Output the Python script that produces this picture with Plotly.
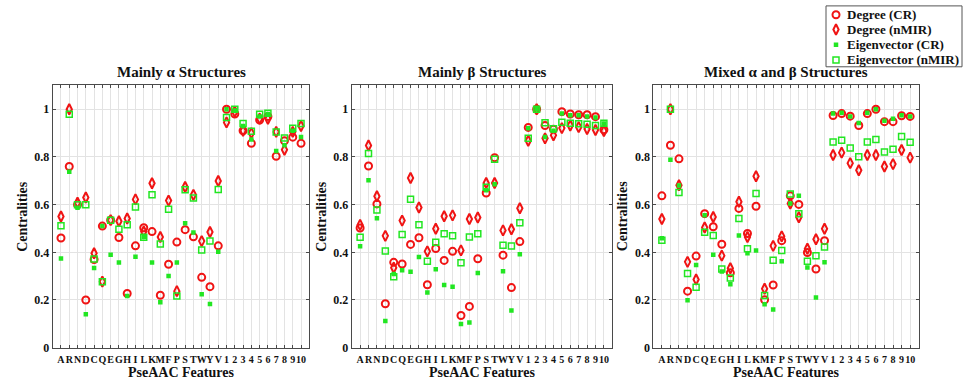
import plotly.graph_objects as go

# PseAAC feature labels: 20 amino acids followed by 10 pseudo components
features = ["A", "R", "N", "D", "C", "Q", "E", "G", "H", "I", "L", "K", "M", "F",
            "P", "S", "T", "W", "Y", "V", "1", "2", "3", "4", "5", "6", "7", "8", "9", "10"]

# Mainly alpha structures
alpha_degree_cr = [0.46, 0.76, 0.60, 0.20, 0.37, 0.51, 0.535, 0.462, 0.227, 0.427,
                   0.503, 0.487, 0.22, 0.35, 0.443, 0.495, 0.465, 0.295, 0.256, 0.427,
                   1.0, 0.98, 0.91, 0.857, 0.955, 0.97, 0.803, 0.868, 0.883, 0.857]
alpha_degree_nmir = [0.55, 1.0, 0.608, 0.63, 0.396, 0.277, 0.535, 0.53, 0.542, 0.622,
                     0.487, 0.69, 0.464, 0.617, 0.237, 0.674, 0.641, 0.447, 0.485, 0.699,
                     0.945, 0.99, 0.91, 0.90, 0.96, 0.96, 0.905, 0.83, 0.905, 0.93]
alpha_eigen_cr = [0.374, 0.738, 0.587, 0.14, 0.334, 0.51, 0.39, 0.357, 0.217, 0.381,
                  0.464, 0.357, 0.19, 0.301, 0.357, 0.522, 0.483, 0.224, 0.183, 0.402,
                  1.0, 0.995, 0.93, 0.873, 0.97, 0.98, 0.825, 0.849, 0.91, 0.884]
alpha_eigen_nmir = [0.511, 0.979, 0.60, 0.60, 0.372, 0.277, 0.535, 0.497, 0.516, 0.59,
                    0.463, 0.641, 0.435, 0.581, 0.217, 0.662, 0.628, 0.41, 0.447, 0.663,
                    0.966, 1.0, 0.94, 0.908, 0.979, 0.983, 0.905, 0.879, 0.92, 0.94]

# Mainly beta structures
beta_degree_cr = [0.502, 0.762, 0.603, 0.184, 0.358, 0.351, 0.433, 0.461, 0.264, 0.416,
                  0.366, 0.404, 0.135, 0.173, 0.373, 0.649, 0.797, 0.388, 0.252, 0.445,
                  0.924, 1.0, 0.932, 0.916, 0.99, 0.98, 0.977, 0.977, 0.969, 0.914]
beta_degree_nmir = [0.515, 0.848, 0.635, 0.469, 0.335, 0.533, 0.712, 0.588, 0.404, 0.499,
                    0.551, 0.555, 0.408, 0.54, 0.546, 0.691, 0.691, 0.492, 0.497, 0.585,
                    0.868, 1.0, 0.878, 0.891, 0.921, 0.932, 0.925, 0.917, 0.913, 0.909]
beta_eigen_cr = [0.425, 0.702, 0.543, 0.112, 0.309, 0.325, 0.318, 0.38, 0.231, 0.329,
                 0.263, 0.256, 0.099, 0.106, 0.313, 0.66, 0.685, 0.321, 0.156, 0.392,
                 0.92, 1.0, 0.884, 0.91, 0.982, 0.975, 0.975, 0.97, 0.965, 0.94]
beta_eigen_nmir = [0.463, 0.815, 0.578, 0.405, 0.297, 0.475, 0.623, 0.516, 0.363, 0.442,
                   0.478, 0.469, 0.356, 0.464, 0.478, 0.673, 0.79, 0.43, 0.426, 0.524,
                   0.878, 1.0, 0.943, 0.918, 0.946, 0.941, 0.939, 0.937, 0.932, 0.941]

# Mixed alpha and beta structures
mixed_degree_cr = [0.637, 0.849, 0.792, 0.237, 0.384, 0.562, 0.507, 0.434, 0.314, 0.584,
                   0.479, 0.593, 0.201, 0.263, 0.449, 0.637, 0.601, 0.399, 0.33, 0.449,
                   0.974, 0.982, 0.971, 0.932, 0.982, 1.0, 0.948, 0.948, 0.973, 0.97]
mixed_degree_nmir = [0.54, 1.0, 0.681, 0.36, 0.286, 0.504, 0.548, 0.386, 0.333, 0.612,
                     0.464, 0.719, 0.247, 0.427, 0.467, 0.605, 0.547, 0.415, 0.455, 0.499,
                     0.808, 0.818, 0.774, 0.744, 0.808, 0.808, 0.76, 0.77, 0.829, 0.797]
mixed_eigen_cr = [0.459, 0.788, 0.68, 0.199, 0.347, 0.555, 0.39, 0.319, 0.266, 0.471,
                  0.396, 0.408, 0.182, 0.16, 0.362, 0.605, 0.637, 0.336, 0.21, 0.358,
                  0.982, 0.985, 0.97, 0.942, 0.985, 1.0, 0.952, 0.96, 0.975, 0.97]
mixed_eigen_nmir = [0.451, 1.0, 0.651, 0.311, 0.253, 0.484, 0.471, 0.33, 0.292, 0.542,
                    0.415, 0.647, 0.219, 0.367, 0.408, 0.645, 0.562, 0.363, 0.386, 0.422,
                    0.863, 0.87, 0.838, 0.801, 0.863, 0.873, 0.821, 0.832, 0.886, 0.862]

panel_titles = ["Mainly α Structures", "Mainly β Structures", "Mixed α and β Structures"]
series_names = ["Degree (CR)", "Degree (nMIR)", "Eigenvector (CR)", "Eigenvector (nMIR)"]
y_ticks = [0, 0.2, 0.4, 0.6, 0.8, 1]
y_tick_text = ["0", "0.2", "0.4", "0.6", "0.8", "1"]

panels = [
    [alpha_degree_cr, alpha_degree_nmir, alpha_eigen_cr, alpha_eigen_nmir],
    [beta_degree_cr, beta_degree_nmir, beta_eigen_cr, beta_eigen_nmir],
    [mixed_degree_cr, mixed_degree_nmir, mixed_eigen_cr, mixed_eigen_nmir],
]

RED = "#f01414"
GREEN = "#22e622"
FONT = "Liberation Serif"
INK = "#111111"
AXIS = "#4a4a4a"

marker_styles = [
    dict(symbol="circle-open", size=7, color=RED, line=dict(width=2, color=RED)),
    dict(symbol="diamond-tall-open", size=7.5, color=RED, line=dict(width=2, color=RED)),
    dict(symbol="square", size=4.5, color=GREEN, line=dict(width=0)),
    dict(symbol="square-open", size=6, color=GREEN, line=dict(width=1.5, color=GREEN)),
]

W, H = 971, 391
x_px = [(52.7, 309.3), (351.7, 612.3), (653.3, 918.7)]
y_bottom, y_top = 354.0, 87.0
y_dom = [1 - y_bottom / H, 1 - y_top / H]

fig = go.Figure()
layout = dict(
    width=W, height=H,
    margin=dict(l=0, r=0, t=0, b=0),
    paper_bgcolor="white", plot_bgcolor="white",
    font=dict(family=FONT, color=INK),
    showlegend=False,
)

annotations = []
for p, (series, (x0, x1)) in enumerate(zip(panels, x_px)):
    sfx = "" if p == 0 else str(p + 1)
    xa, ya = "x" + sfx, "y" + sfx
    for s, vals in enumerate(series):
        fig.add_trace(go.Scatter(
            x=features, y=vals, mode="markers",
            marker=marker_styles[s], name=series_names[s],
            xaxis=xa, yaxis=ya,
        ))
    axis_common = dict(
        showline=True, linecolor=AXIS, linewidth=1, mirror="ticks",
        ticks="inside", ticklen=3, tickcolor=AXIS,
        showgrid=True, gridcolor="#e3e3e3", gridwidth=1, zeroline=False,
        tickfont=dict(family=FONT, size=12, weight="bold", color=INK),
    )
    layout["xaxis" + sfx] = dict(
        axis_common, type="category", domain=[x0 / W, x1 / W],
        range=[-1, 30], anchor=ya, ticklabelstandoff=2, tickangle=0,
        categoryorder="array", categoryarray=features,
        tickmode="array", tickvals=features, ticktext=features,
        tickfont=dict(family=FONT, size=10, weight="bold", color=INK),
    )
    layout["yaxis" + sfx] = dict(
        axis_common, domain=y_dom, range=[0, 1.1], anchor=xa,
        tickvals=y_ticks, ticktext=y_tick_text,
    )
    cx = (x0 + x1) / 2 / W
    annotations.append(dict(
        text=panel_titles[p], x=cx, y=1 - 73 / H, xref="paper", yref="paper",
        xanchor="center", yanchor="middle", showarrow=False,
        font=dict(family=FONT, size=15, weight="bold", color=INK),
    ))
    annotations.append(dict(
        text="PseAAC Features", x=cx, y=1 - 379 / H, xref="paper", yref="paper",
        xanchor="center", yanchor="middle", showarrow=False,
        font=dict(family=FONT, size=14, weight="bold", color=INK),
    ))
    annotations.append(dict(
        text="Centralities", x=(x0 - 31) / W, y=1 - 220 / H, xref="paper", yref="paper",
        xanchor="center", yanchor="middle", showarrow=False, textangle=-90,
        font=dict(family=FONT, size=14, weight="bold", color=INK),
    ))

# Legend box drawn on its own hidden axis pair so rows can be spaced tightly
leg_x0, leg_x1, leg_y0, leg_y1 = 826, 962, 6, 68
row_px = [15, 30, 45.5, 61]
layout["xaxis4"] = dict(domain=[leg_x0 / W, leg_x1 / W], range=[0, 1], visible=False,
                        anchor="y4", fixedrange=True)
layout["yaxis4"] = dict(domain=[1 - leg_y1 / H, 1 - leg_y0 / H], range=[0, 1], visible=False,
                        anchor="x4", fixedrange=True)
layout["shapes"] = [dict(
    type="rect", xref="paper", yref="paper",
    x0=leg_x0 / W, x1=leg_x1 / W, y0=1 - leg_y1 / H, y1=1 - leg_y0 / H,
    line=dict(color="#555555", width=1), fillcolor="white", layer="below",
)]
for s, name in enumerate(series_names):
    ry = (leg_y1 - row_px[s]) / (leg_y1 - leg_y0)
    fig.add_trace(go.Scatter(
        x=[(836 - leg_x0) / (leg_x1 - leg_x0)], y=[ry], mode="markers",
        marker=marker_styles[s], xaxis="x4", yaxis="y4", hoverinfo="skip",
    ))
    annotations.append(dict(
        text=name, x=845 / W, y=1 - row_px[s] / H, xref="paper", yref="paper",
        xanchor="left", yanchor="middle", showarrow=False,
        font=dict(family=FONT, size=13, weight="bold", color=INK),
    ))

layout["annotations"] = annotations
fig.update_layout(**layout)
fig.write_html("out.html")
